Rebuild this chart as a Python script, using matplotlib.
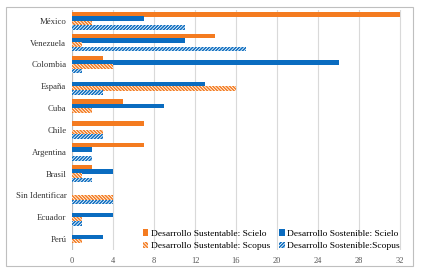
import numpy as np
import matplotlib.pyplot as plt
from matplotlib.patches import Rectangle

paises = ['México', 'Venezuela', 'Colombia', 'España', 'Cuba', 'Chile',
          'Argentina', 'Brasil', 'Sin Identificar', 'Ecuador', 'Perú']
sust_scielo = [32, 14, 3, 0, 5, 7, 7, 2, 0, 0, 0]
sost_scielo = [7, 11, 26, 13, 9, 0, 2, 4, 0, 4, 3]
sust_scopus = [2, 1, 4, 16, 2, 3, 0, 1, 4, 1, 1]
sost_scopus = [11, 17, 1, 3, 0, 3, 2, 2, 4, 1, 0]
ticks = [0, 4, 8, 12, 16, 20, 24, 28, 32]

naranja = '#F47B20'
azul = '#0A6CC0'

plt.rcParams['font.family'] = ['Liberation Serif', 'DejaVu Serif']
plt.rcParams['hatch.linewidth'] = 1.1

fig = plt.figure(figsize=(4.23, 2.74), dpi=100)
ax = fig.add_axes([0.170, 0.088, 0.783, 0.876])

y = np.arange(len(paises))
h = 0.21
b1 = ax.barh(y - 0.3, sust_scielo, h, color=naranja, label='Desarrollo Sustentable: Scielo', zorder=3)
b2 = ax.barh(y - 0.1, sost_scielo, h, color=azul, label='Desarrollo Sostenible: Scielo', zorder=3)
b3 = ax.barh(y + 0.1, sust_scopus, h, color='white', edgecolor=naranja, hatch='\\' * 10,
             linewidth=0, label='Desarrollo Sustentable: Scopus', zorder=3)
b4 = ax.barh(y + 0.3, sost_scopus, h, color='white', edgecolor=azul, hatch='/' * 10,
             linewidth=0, label='Desarrollo Sostenible:Scopus', zorder=3)

ax.set_ylim(len(paises) - 0.5, -0.5)
ax.set_xlim(0, 32.3)
ax.set_xticks(ticks)
ax.set_yticks(y)
ax.set_yticklabels(paises, fontsize=6.3, color='#333333')
ax.tick_params(axis='x', labelsize=6, colors='#555555', length=0, pad=5)
ax.tick_params(axis='y', length=0, pad=4)
ax.grid(axis='x', color='#D9D9D9', linewidth=0.8, zorder=0)
for s in ax.spines.values():
    s.set_visible(False)
ax.axvline(0, color='#BFBFBF', linewidth=0.8, zorder=2)

fig.legend([b1, b3, b2, b4],
           [b1.get_label(), b3.get_label(), b2.get_label(), b4.get_label()],
           ncol=2, loc='lower left', bbox_to_anchor=(0.333, 0.08),
           frameon=False, fontsize=6.8, handlelength=0.6, handleheight=0.7,
           handletextpad=0.25, columnspacing=1.0, labelspacing=0.4,
           borderaxespad=0, borderpad=0.2)

fig.patches.append(Rectangle((0.014, 0.03), 0.962, 0.945, transform=fig.transFigure,
                             fill=False, edgecolor='#BFBFBF', linewidth=0.8))

fig.savefig('out.png', dpi=100)
